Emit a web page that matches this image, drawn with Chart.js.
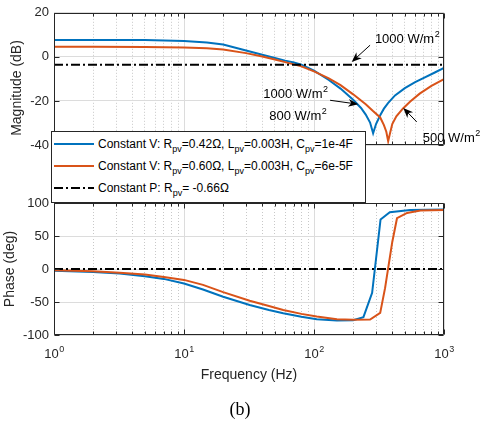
<!DOCTYPE html>
<html>
<head>
<meta charset="utf-8">
<script src="https://cdn.jsdelivr.net/npm/chart.js@4.4.1/dist/chart.umd.min.js"></script>
<style>
  body { margin: 0; background: #fff; width: 480px; height: 421px; position: relative; overflow: hidden; font-family: "Liberation Sans", Arial, sans-serif; }
  canvas { position: absolute; left: 0; }
  #mag { top: 0; }
  #phase { top: 190px; }
  #legend { position: absolute; left: 51px; top: 131px; width: 313px; height: 70px; border: 1px solid #262626; background: #fff; font-size: 12px; color: #000; }
  .row { position: absolute; left: 0; height: 16px; line-height: 16px; white-space: nowrap; }
  .row svg { position: absolute; left: 0; top: 0; }
  .row span { position: absolute; left: 46px; top: 0; }
  sub { font-size: 9px; vertical-align: -4px; line-height: 0; }
  #caption { position: absolute; top: 399px; left: 0; width: 480px; text-align: center; font-family: "Liberation Serif", serif; font-size: 18px; line-height: 20px; }
</style>
</head>
<body>
<canvas id="mag" width="480" height="160"></canvas>
<canvas id="phase" width="480" height="231"></canvas>
<div id="legend"></div>
<div id="caption">(b)</div>
<script>
// values
const blueMagFreq = [1, 2, 5, 10, 15, 20, 30, 40, 50, 60, 70, 80, 100, 130, 160, 200, 230, 250, 270, 285, 300, 323, 345, 371, 420, 500, 600, 700, 850, 1000];
const blueMag = [7.7, 7.7, 7.6, 7.2, 6.5, 5.6, 2.9, 1.0, -0.5, -1.7, -2.6, -3.5, -6.3, -10.5, -14.4, -19.5, -23.2, -26.2, -29.8, -34.7, -30.5, -26.5, -23.5, -21.0, -17.5, -14.2, -11.5, -9.5, -7.1, -5.0];
const orangeMagFreq = [1, 2, 5, 10, 15, 20, 30, 40, 50, 60, 70, 80, 100, 130, 160, 200, 250, 283, 323, 345, 360, 372, 385, 400, 430, 484, 550, 650, 800, 1000];
const orangeMag = [4.6, 4.6, 4.5, 4.3, 3.9, 3.3, 1.7, 0.2, -1.2, -2.4, -3.4, -4.3, -6.6, -9.8, -12.8, -17.0, -21.5, -24.5, -27.5, -31.0, -34.0, -38.3, -34.5, -30.5, -27.0, -23.4, -20.3, -16.7, -13.2, -10.1];
const constPFreq = [1, 1000];
const constPMag = [-3.6, -3.6];

const bluePhaseFreq = [1, 2, 3.2, 5, 7, 10, 14, 20, 32, 45, 58, 80, 105, 150, 200, 240, 280, 325, 383, 550, 1000];
const bluePhase = [-2.5, -4.5, -7, -11, -15, -22, -31, -42, -54.5, -62, -67, -72.5, -76, -78, -77.5, -73, -36, 75, 86, 89.5, 90];
const orangePhaseFreq = [1, 2, 3.2, 5, 7, 10, 14, 20, 32, 45, 58, 80, 105, 150, 200, 270, 323, 352, 400, 435, 520, 660, 1000];
const orangePhase = [-2, -3.5, -5.5, -8.5, -12, -16.5, -24, -35, -48, -56, -62, -68, -72, -76, -77, -76.5, -66.5, -29, 41, 77, 85, 88.5, 89.5];
const constPPhase = [0, 0];

const seriesNames = [
  'Constant V: R<sub>pv</sub>=0.42\u03A9, L<sub>pv</sub>=0.003H, C<sub>pv</sub>=1e-4F',
  'Constant V: R<sub>pv</sub>=0.60\u03A9, L<sub>pv</sub>=0.003H, C<sub>pv</sub>=6e-5F',
  'Constant P: R<sub>pv</sub>= -0.66\u03A9'
];

const xDecades = [1, 10, 100, 1000];
const xTickExp = ['0', '1', '2', '3'];
const magTicks = [-40, -20, 0, 20];
const phaseTicks = [-100, -50, 0, 50, 100];

// irradiance notes on the magnitude plot (frequency, dB)
const noteText = ['1000 W/m', '1000 W/m', '800 W/m', '500 W/m'];
const noteFreq = [294, 40.7, 45.3, 686];
const noteDb = [6.2, -18.8, -28.8, -38.6];
const arrowTailFreq = [270, 133, 617];
const arrowTailDb = [5.3, -19.7, -29.5];
const arrowHeadFreq = [195, 219, 486];
const arrowHeadDb = [-2.3, -21.5, -23.2];

const BLUE = '#0072BD', ORANGE = '#D95319', AX = '#262626';
const FONT = '"Liberation Sans", Arial, sans-serif';

const xGrid = [];
for (const d of [1, 10, 100]) for (let k = 1; k < 10; k++) xGrid.push(k * d);
xGrid.push(1000);

function pts(f, v) { return f.map((x, i) => ({x: x, y: v[i]})); }

function arrow(ctx, x1, y1, x2, y2) {
  const a = Math.atan2(y2 - y1, x2 - x1);
  ctx.beginPath();
  ctx.moveTo(x1, y1);
  ctx.lineTo(x2 - Math.cos(a) * 6, y2 - Math.sin(a) * 6);
  ctx.stroke();
  ctx.save();
  ctx.translate(x2, y2);
  ctx.rotate(a);
  ctx.beginPath();
  ctx.moveTo(0, 0);
  ctx.lineTo(-10, -4);
  ctx.lineTo(-7, 0);
  ctx.lineTo(-10, 4);
  ctx.closePath();
  ctx.fill();
  ctx.restore();
}

function powText(ctx, base, exp, x, y, size, align) {
  ctx.font = size + 'px ' + FONT;
  const w1 = ctx.measureText(base).width;
  ctx.font = Math.round(size * 0.7) + 'px ' + FONT;
  const w2 = ctx.measureText(exp).width;
  let x0 = align === 'center' ? x - (w1 + w2) / 2 : x;
  ctx.textAlign = 'left';
  ctx.textBaseline = 'alphabetic';
  ctx.font = size + 'px ' + FONT;
  ctx.fillText(base, x0, y);
  ctx.font = Math.round(size * 0.7) + 'px ' + FONT;
  ctx.fillText(exp, x0 + w1 + 0.5, y - 6);
}

const frame = {
  id: 'frame',
  afterDraw(chart, args, o) {
    const {ctx, chartArea: a} = chart;
    const xs = chart.scales.x, ys = chart.scales.y;
    const L = Math.round(a.left) + 0.5, R = Math.round(a.right) - 0.5;
    const T = Math.round(a.top) + 0.5, B = Math.round(a.bottom) - 0.5;
    ctx.save();
    ctx.strokeStyle = AX;
    ctx.lineWidth = 1;
    ctx.beginPath();
    ctx.rect(L, T, R - L, B - T);
    for (const t of xs.ticks) {
      const px = Math.round(xs.getPixelForValue(t.value)) + 0.5;
      const len = xDecades.includes(t.value) ? 5 : 3;
      ctx.moveTo(px, B); ctx.lineTo(px, B - len);
      ctx.moveTo(px, T); ctx.lineTo(px, T + len);
    }
    for (const t of ys.ticks) {
      const py = Math.round(ys.getPixelForValue(t.value)) + 0.5;
      ctx.moveTo(L, py); ctx.lineTo(L + 5, py);
      ctx.moveTo(R, py); ctx.lineTo(R - 5, py);
    }
    ctx.stroke();

    ctx.fillStyle = AX;
    ctx.save();
    ctx.font = '14px ' + FONT;
    ctx.textAlign = 'center';
    ctx.textBaseline = 'middle';
    ctx.translate(o.yTitleX, o.yTitleY);
    ctx.rotate(-Math.PI / 2);
    ctx.fillText(o.yTitle, 0, 0);
    ctx.restore();

    if (o.xLabels) {
      xDecades.forEach((v, i) => {
        powText(ctx, '10', xTickExp[i], xs.getPixelForValue(v), o.xLabelY, 13, 'center');
      });
      ctx.font = '14px ' + FONT;
      ctx.textAlign = 'center';
      ctx.textBaseline = 'alphabetic';
      ctx.fillText(o.xTitle, (a.left + a.right) / 2, o.xTitleY);
    }

    if (o.notes) {
      ctx.fillStyle = '#000';
      ctx.strokeStyle = '#000';
      noteText.forEach((s, i) => {
        powText(ctx, s, '2', xs.getPixelForValue(noteFreq[i]), ys.getPixelForValue(noteDb[i]), 13, 'left');
      });
      arrowTailFreq.forEach((f, i) => {
        arrow(ctx, xs.getPixelForValue(f), ys.getPixelForValue(arrowTailDb[i]),
          xs.getPixelForValue(arrowHeadFreq[i]), ys.getPixelForValue(arrowHeadDb[i]));
      });
    }
    ctx.restore();
  }
};

function makeChart(id, datasets, yTicks, pad, xHeight, extra) {
  return new Chart(document.getElementById(id), {
    type: 'line',
    data: {datasets: datasets},
    options: {
      responsive: false,
      animation: false,
      devicePixelRatio: 1,
      layout: {padding: pad},
      elements: {point: {radius: 0}, line: {tension: 0}},
      plugins: {legend: {display: false}, tooltip: {enabled: false}, frame: extra},
      scales: {
        x: {
          type: 'logarithmic', min: 1, max: 1000,
          afterBuildTicks: s => { s.ticks = xGrid.map(v => ({value: v})); },
          afterFit: s => { s.height = xHeight; },
          ticks: {display: false},
          grid: {
            drawTicks: false, lineWidth: 1,
            color: c => (c.tick && xDecades.includes(c.tick.value)) ? '#dcdcdc' : '#c8c8c8'
          },
          border: {display: false, dash: c => (c.tick && !xDecades.includes(c.tick.value)) ? [1, 2] : []}
        },
        y: {
          min: yTicks[0], max: yTicks[yTicks.length - 1],
          afterBuildTicks: s => { s.ticks = yTicks.map(v => ({value: v})); },
          afterFit: s => { s.width = 54; },
          ticks: {font: {family: 'Liberation Sans', size: 13}, color: AX, padding: 5},
          grid: {drawTicks: false, color: '#dcdcdc', lineWidth: 1},
          border: {display: false}
        }
      }
    },
    plugins: [frame]
  });
}

const dash = [9, 3, 2, 3];

makeChart('mag', [
  {data: pts(constPFreq, constPMag), borderColor: '#000', borderWidth: 2, borderDash: dash, fill: false},
  {data: pts(orangeMagFreq, orangeMag), borderColor: ORANGE, borderWidth: 2, fill: false},
  {data: pts(blueMagFreq, blueMag), borderColor: BLUE, borderWidth: 2, fill: false}
], magTicks, {top: 12, right: 36, left: 0, bottom: 0}, 15,
  {yTitle: 'Magnitude (dB)', yTitleX: 17, yTitleY: 88, notes: true});

makeChart('phase', [
  {data: pts(constPFreq, constPPhase), borderColor: '#000', borderWidth: 2, borderDash: dash, fill: false},
  {data: pts(orangePhaseFreq, orangePhase), borderColor: ORANGE, borderWidth: 2, fill: false},
  {data: pts(bluePhaseFreq, bluePhase), borderColor: BLUE, borderWidth: 2, fill: false}
], phaseTicks, {top: 13, right: 36, left: 0, bottom: 0}, 86,
  {yTitle: 'Phase (deg)', yTitleX: 10, yTitleY: 79, xLabels: true, xLabelY: 168, xTitle: 'Frequency (Hz)', xTitleY: 189});

// legend
const legendColors = [BLUE, ORANGE, '#000'];
const legend = document.getElementById('legend');
seriesNames.forEach((name, i) => {
  const row = document.createElement('div');
  row.className = 'row';
  row.style.top = (4 + i * 22) + 'px';
  const da = i === 2 ? ' stroke-dasharray="' + dash.join(' ') + '"' : '';
  row.innerHTML = '<svg width="44" height="16"><line x1="2" y1="8" x2="42" y2="8" stroke="' +
    legendColors[i] + '" stroke-width="2"' + da + '/></svg><span>' + name + '</span>';
  legend.appendChild(row);
});
</script>
</body>
</html>
